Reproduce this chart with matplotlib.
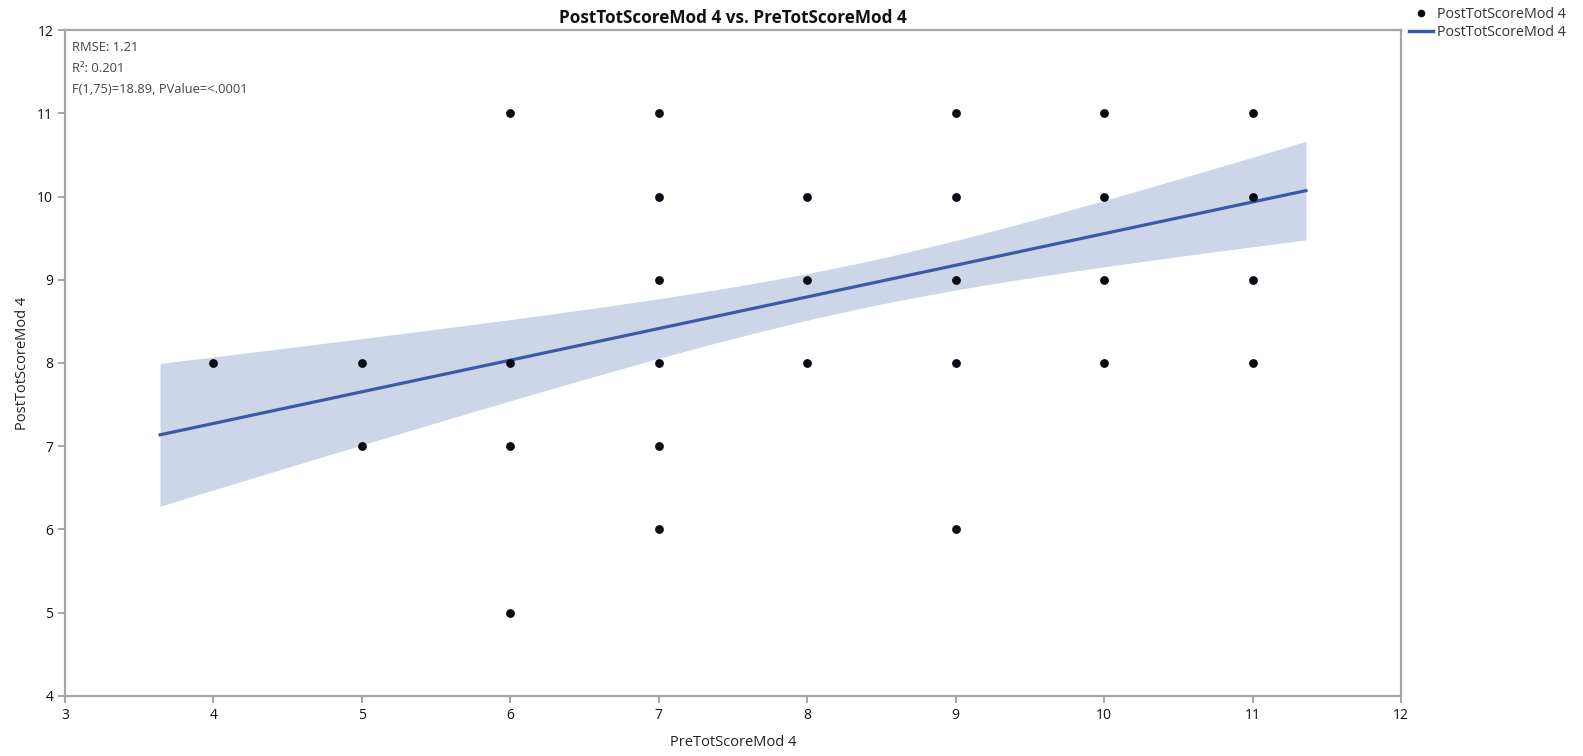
import numpy as np
import matplotlib
matplotlib.use("Agg")
import matplotlib.pyplot as plt
from matplotlib.lines import Line2D

plt.rcParams['font.family'] = ['Open Sans', 'DejaVu Sans']

# Observed (pre, post) score pairs
pre_scores = [4, 5, 5, 6, 6, 6, 6, 7, 7, 7, 7, 7, 7, 8, 8, 8,
              9, 9, 9, 9, 9, 10, 10, 10, 10, 11, 11, 11, 11]
post_scores = [8, 8, 7, 11, 8, 7, 5, 11, 10, 9, 8, 7, 6, 10, 9, 8,
               11, 10, 9, 8, 6, 11, 10, 9, 8, 11, 10, 9, 8]

# Linear fit summary
intercept = 5.754
slope = 0.380
rmse = 1.21
n_obs = 77
x_mean = 8.33
sxx = 193.6
t_crit = 1.992
fit_range = [3.64, 11.36]

stats_lines = ["RMSE: 1.21", "R²: 0.201", "F(1,75)=18.89, PValue=<.0001"]
series_name = "PostTotScoreMod 4"

fig = plt.figure(figsize=(15.83, 7.56), dpi=100)
ax = fig.add_axes([0.0411, 0.0794, 0.8439, 0.8809])

xs = np.linspace(fit_range[0], fit_range[1], 200)
yhat = intercept + slope * xs
half = t_crit * rmse * np.sqrt(1.0 / n_obs + (xs - x_mean) ** 2 / sxx)

line_color = "#3d5aa6"
ax.fill_between(xs, yhat - half, yhat + half, color="#cdd6e8", lw=0, zorder=1)
ax.plot(xs, yhat, color=line_color, lw=2.3, zorder=2)
ax.scatter(pre_scores, post_scores, s=40, color="#0a0a14", zorder=3, lw=0)

ax.set_xlim(3, 12)
ax.set_ylim(4, 12)
ax.set_xticks(range(3, 13))
ax.set_yticks(range(4, 13))

spine_color = "#a6a6a6"
for s in ax.spines.values():
    s.set_color(spine_color)
    s.set_linewidth(1.6)
ax.tick_params(axis='both', colors=spine_color, length=5, width=1.4,
               labelcolor="#111111", labelsize=10)

ax.set_xlabel("PreTotScoreMod 4", fontsize=10.5, color="#222222", labelpad=9)
ax.set_ylabel("PostTotScoreMod 4", fontsize=10.5, color="#222222")
ax.yaxis.set_label_coords(-0.026, 0.5)
ax.set_title("PostTotScoreMod 4 vs. PreTotScoreMod 4", fontsize=12.3,
             fontweight='bold', color="#111111", pad=5)

stat_y = [0.974, 0.942, 0.910]
for yy, txt in zip(stat_y, stats_lines):
    ax.text(0.005, yy, txt, transform=ax.transAxes,
            fontsize=9.3, color="#444444", va='center', ha='left')

handles = [
    Line2D([], [], marker='o', color='none', markerfacecolor="#0a0a14",
           markeredgewidth=0, markersize=5.5),
    Line2D([], [], color=line_color, lw=2.5),
]
fig.legend(handles, [series_name, series_name], loc='upper left',
           bbox_to_anchor=(0.882, 1.008), frameon=False, fontsize=10.3,
           handlelength=1.7, handletextpad=0.25, labelspacing=0.25,
           labelcolor="#333333")

fig.savefig("out.png", dpi=100)
